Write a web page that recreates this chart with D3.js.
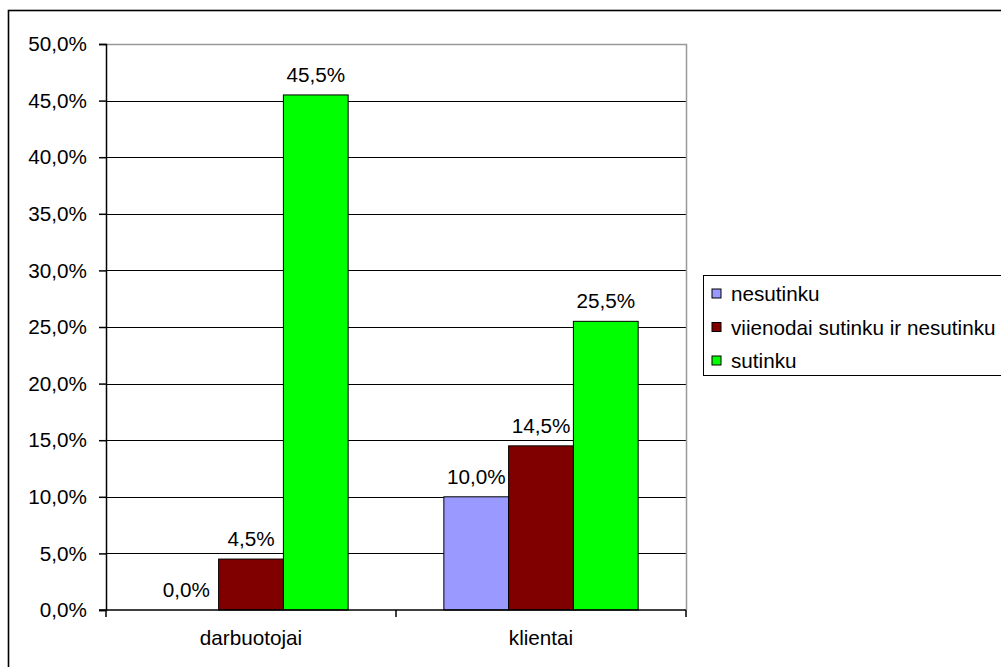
<!DOCTYPE html>
<html>
<head>
<meta charset="utf-8">
<script src="https://cdn.jsdelivr.net/npm/d3@7"></script>
<style>
  html, body { margin: 0; padding: 0; background: #fff; }
  svg { display: block; font-family: "Liberation Sans", Arial, sans-serif; }
</style>
</head>
<body>
<svg id="chart" width="1001" height="667"></svg>
<script>
// Survey answers by respondent group (percent)
const categories = ["darbuotojai", "klientai"];
const seriesNames = ["nesutinku", "viienodai sutinku ir nesutinku", "sutinku"];
const nesutinku = [0.0, 10.0];
const vienodai = [4.5, 14.5];
const sutinku = [45.5, 25.5];
const yTicks = [0, 5, 10, 15, 20, 25, 30, 35, 40, 45, 50];
const colors = ["#9999FF", "#800000", "#00FF00"];

const seriesValues = [nesutinku, vienodai, sutinku];
const fmt = v => v.toFixed(1).replace(".", ",") + "%";
const FS = 20.7;

const svg = d3.select("#chart");
const plot = { left: 106, right: 686, top: 44, bottom: 610 };

// Outer chart frame (extends past the visible page on right/bottom)
svg.append("rect")
  .attr("x", 8.5).attr("y", 10.5)
  .attr("width", 1100).attr("height", 800)
  .attr("fill", "none").attr("stroke", "#000").attr("stroke-width", 1.6);

const x0 = d3.scaleBand().domain(categories)
  .range([plot.left, plot.right]).paddingInner(0.33).paddingOuter(0.165);
const x1 = d3.scaleBand().domain(d3.range(seriesNames.length))
  .range([0, x0.bandwidth()]);
const y = d3.scaleLinear().domain([0, 50]).range([plot.bottom, plot.top]);

// Horizontal gridlines
svg.append("g").selectAll("line").data(yTicks.filter(t => t > 0 && t < 50)).join("line")
  .attr("x1", plot.left).attr("x2", plot.right)
  .attr("y1", d => Math.round(y(d)) + 0.5).attr("y2", d => Math.round(y(d)) + 0.5)
  .attr("stroke", "#000").attr("stroke-width", 1);

// Plot frame top and right (gray)
svg.append("path")
  .attr("d", `M${plot.left},${plot.top + 0.5}H${plot.right + 0.5}V${plot.bottom}`)
  .attr("fill", "none").attr("stroke", "#999").attr("stroke-width", 1.5);

// Bars
const groups = svg.append("g").selectAll("g").data(categories).join("g")
  .attr("transform", d => `translate(${x0(d)},0)`);

groups.each(function(cat, ci) {
  const g = d3.select(this);
  seriesValues.forEach((vals, si) => {
    const v = vals[ci];
    if (v > 0) {
      g.append("rect")
        .attr("x", x1(si)).attr("y", y(v))
        .attr("width", x1.bandwidth()).attr("height", y(0) - y(v))
        .attr("fill", colors[si]).attr("stroke", "#000").attr("stroke-width", 1);
    }
    g.append("text")
      .attr("x", x1(si) + x1.bandwidth() / 2)
      .attr("y", y(v) - 13)
      .attr("text-anchor", "middle")
      .attr("font-size", FS).attr("fill", "#000")
      .text(fmt(v));
  });
});

// Y axis
const yAxis = svg.append("g")
  .attr("transform", `translate(${plot.left},0)`)
  .call(d3.axisLeft(y).tickValues(yTicks).tickSize(7).tickPadding(12).tickFormat(fmt));
yAxis.select(".domain").attr("stroke", "#000").attr("stroke-width", 1.5);
yAxis.selectAll(".tick line").attr("stroke", "#000").attr("stroke-width", 1.5);
yAxis.selectAll("text").attr("font-size", FS).attr("font-family", "Liberation Sans, Arial, sans-serif").attr("fill", "#000");

// X axis line with boundary ticks
svg.append("line")
  .attr("x1", plot.left - 7).attr("x2", plot.right)
  .attr("y1", plot.bottom).attr("y2", plot.bottom)
  .attr("stroke", "#000").attr("stroke-width", 1.5);
const bounds = [plot.left, ...categories.slice(1).map(c => x0(c) - x0.step() * x0.paddingInner() / 2), plot.right];
svg.append("g").selectAll("line").data(bounds).join("line")
  .attr("x1", d => d).attr("x2", d => d)
  .attr("y1", plot.bottom).attr("y2", plot.bottom + 7)
  .attr("stroke", "#000").attr("stroke-width", 1.5);

// Category labels
svg.append("g").selectAll("text").data(categories).join("text")
  .attr("x", d => x0(d) + x0.bandwidth() / 2)
  .attr("y", 645)
  .attr("text-anchor", "middle")
  .attr("font-size", FS).attr("fill", "#000")
  .text(d => d);

// Legend
const legend = svg.append("g");
legend.append("rect")
  .attr("x", 703.5).attr("y", 275.5).attr("width", 400).attr("height", 100)
  .attr("fill", "#fff").attr("stroke", "#000").attr("stroke-width", 1);
seriesNames.forEach((name, i) => {
  const cy = 294 + i * 33.5;
  legend.append("rect")
    .attr("x", 712).attr("y", cy - 5).attr("width", 9).attr("height", 9)
    .attr("fill", colors[i]).attr("stroke", "#000").attr("stroke-width", 1);
  legend.append("text")
    .attr("x", 731).attr("y", cy + 7)
    .attr("font-size", FS).attr("fill", "#000")
    .text(name);
});
</script>
</body>
</html>
